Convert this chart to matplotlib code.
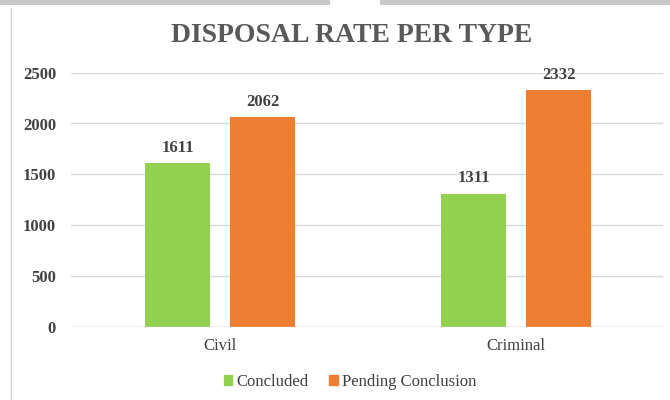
import matplotlib
matplotlib.use("Agg")
import matplotlib.pyplot as plt
from matplotlib.patches import Rectangle
from matplotlib.lines import Line2D
import numpy as np

categories = ["Civil", "Criminal"]
concluded = [1611, 1311]
pending = [2062, 2332]
series_names = ["Concluded", "Pending Conclusion"]
colors = ["#92D050", "#ED7D31"]
yticks = [0, 500, 1000, 1500, 2000, 2500]

plt.rcParams['font.family'] = ['Liberation Serif', 'DejaVu Serif']

W, H = 670, 400
fig = plt.figure(figsize=(W/100, H/100), dpi=100)
fig.patch.set_facecolor("white")

# window decorations
fig.add_artist(Rectangle((0, 1 - 5/H), 1, 5/H, transform=fig.transFigure,
                         facecolor="#c8c8c8", edgecolor="none"))
fig.add_artist(Rectangle((330/W, 1 - 5/H), 50/W, 5/H, transform=fig.transFigure,
                         facecolor="white", edgecolor="none"))
fig.add_artist(Line2D([11/W, 11/W], [0, 1 - 8/H], transform=fig.transFigure,
                      color="#d0d0d0", lw=1))

left, right = 71, 663
top, bottom = 72.7, 326.7
ax = fig.add_axes([left/W, 1 - bottom/H, (right-left)/W, (bottom-top)/H])

x = np.arange(len(categories))
bw = 0.22
off = 0.1436
b1 = ax.bar(x - off, concluded, bw, color=colors[0], label=series_names[0], zorder=3)
b2 = ax.bar(x + off, pending, bw, color=colors[1], label=series_names[1], zorder=3)

for bars in (b1, b2):
    for r in bars:
        ax.annotate(f"{int(r.get_height())}", (r.get_x() + r.get_width()/2, r.get_height()),
                    xytext=(0, 8), textcoords="offset points", ha="center", va="baseline",
                    fontsize=12, fontweight="bold", color="#404040")

ax.set_xlim((left - 220)/296, (right - 220)/296)
ax.set_ylim(0, 2500)
ax.set_yticks(yticks)
ax.set_yticklabels([str(v) for v in yticks], fontsize=12, fontweight="bold", color="#404040")
ax.set_xticks(x)
ax.set_xticklabels(categories, fontsize=12, color="#404040")
ax.tick_params(axis="both", length=0)
ax.tick_params(axis="y", pad=10.8)
ax.tick_params(axis="x", pad=8)
ax.grid(axis="y", color="#d9d9d9", lw=1, zorder=0)
for s in ax.spines.values():
    s.set_visible(False)
ax.axhline(0, color="#d0d0d0", lw=1, zorder=4)

fig.text(352/W, 1 - 36/H, "DISPOSAL RATE PER TYPE", ha="center", va="center",
         fontsize=20, fontweight="bold", color="#595959")

handles = [Rectangle((0, 0), 1, 1, color=c) for c in colors]
fig.legend(handles, series_names, loc="center", bbox_to_anchor=(350/W, 1 - 382/H),
           ncol=2, frameon=False, fontsize=12, handlelength=0.5, handleheight=0.5,
           handletextpad=0.25, columnspacing=1.25, labelcolor="#404040",
           borderpad=0, borderaxespad=0)

fig.savefig("out.png", dpi=100)
